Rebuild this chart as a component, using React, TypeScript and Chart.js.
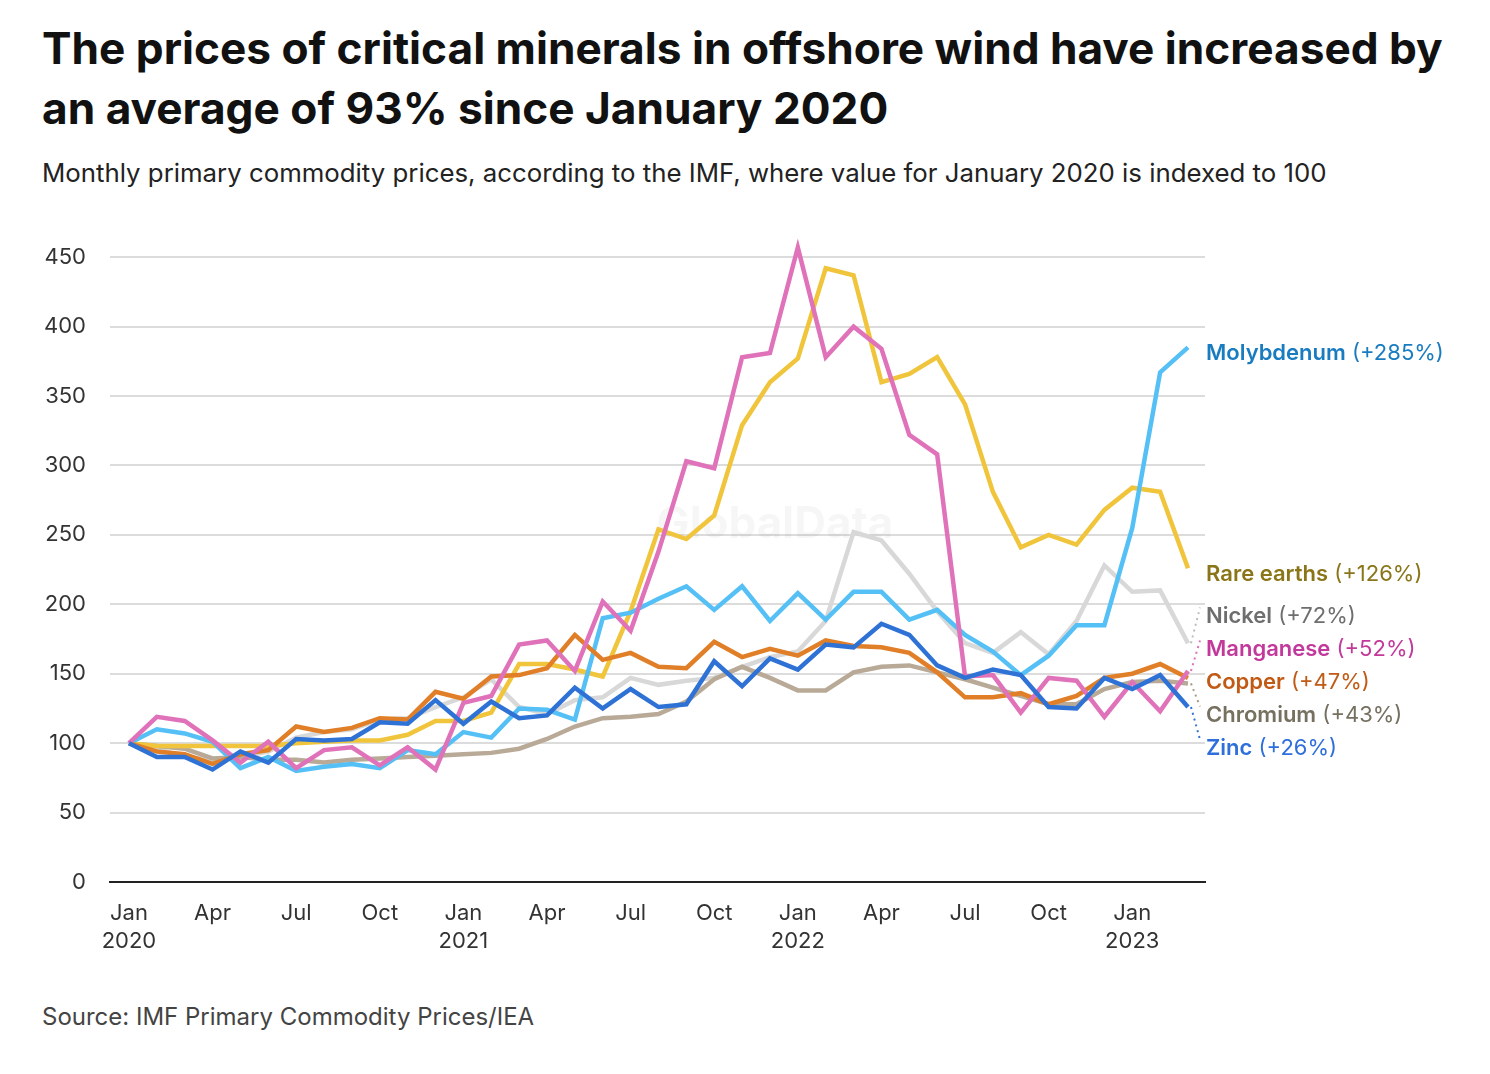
import { useEffect, useRef } from "react";
import { Chart, registerables } from "chart.js";

Chart.register(...registerables);

const FONT = "Inter, 'Noto Sans', 'DejaVu Sans', sans-serif";

// Monthly observations, Jan 2020 .. Mar 2023
const MONTHS = [
  "2020-01", "2020-02", "2020-03", "2020-04", "2020-05", "2020-06", "2020-07", "2020-08", "2020-09", "2020-10", "2020-11", "2020-12",
  "2021-01", "2021-02", "2021-03", "2021-04", "2021-05", "2021-06", "2021-07", "2021-08", "2021-09", "2021-10", "2021-11", "2021-12",
  "2022-01", "2022-02", "2022-03", "2022-04", "2022-05", "2022-06", "2022-07", "2022-08", "2022-09", "2022-10", "2022-11", "2022-12",
  "2023-01", "2023-02", "2023-03",
];

const X_TICK_MONTHS = [
  "2020-01", "2020-04", "2020-07", "2020-10", "2021-01", "2021-04", "2021-07",
  "2021-10", "2022-01", "2022-04", "2022-07", "2022-10", "2023-01",
];
const X_TICK_LABELS = [
  ["Jan", "2020"], ["Apr"], ["Jul"], ["Oct"], ["Jan", "2021"], ["Apr"], ["Jul"],
  ["Oct"], ["Jan", "2022"], ["Apr"], ["Jul"], ["Oct"], ["Jan", "2023"],
];
const Y_TICKS = [0, 50, 100, 150, 200, 250, 300, 350, 400, 450];

const MOLYBDENUM = [
  100, 110, 107, 101, 82, 90, 80, 83, 85, 82, 95, 92,
  108, 104, 125, 124, 117, 190, 194, 204, 213, 196, 213, 188,
  208, 189, 209, 209, 189, 196, 178, 166, 149, 163, 185, 185,
  255, 367, 385,
];
const RARE_EARTHS = [
  100, 98, 98, 98, 98, 98, 100, 101, 102, 102, 106, 116,
  116, 122, 157, 157, 153, 148, 195, 254, 247, 264, 329, 360,
  377, 442, 437, 360, 366, 378, 344, 281, 241, 250, 243, 268,
  284, 281, 226,
];
const NICKEL = [
  100, 96, 90, 88, 90, 94, 104, 108, 110, 117, 118, 126,
  133, 146, 126, 121, 131, 133, 147, 142, 145, 147, 155, 162,
  166, 188, 252, 246, 222, 195, 172, 165, 180, 164, 188, 228,
  209, 210, 172,
];
const MANGANESE = [
  100, 119, 116, 102, 86, 101, 82, 95, 97, 84, 97, 81,
  129, 134, 171, 174, 152, 202, 181, 238, 303, 298, 378, 381,
  457, 378, 400, 384, 322, 308, 148, 149, 122, 147, 145, 119,
  144, 123, 152,
];
const COPPER = [
  100, 94, 92, 85, 92, 95, 112, 108, 111, 118, 117, 137,
  132, 148, 149, 154, 178, 160, 165, 155, 154, 173, 162, 168,
  163, 174, 170, 169, 165, 151, 133, 133, 136, 128, 134, 147,
  150, 157, 147,
];
const CHROMIUM = [
  100, 98, 96, 89, 90, 88, 88, 86, 88, 89, 90, 91,
  92, 93, 96, 103, 112, 118, 119, 121, 130, 146, 155, 147,
  138, 138, 151, 155, 156, 151, 146, 140, 134, 128, 128, 139,
  144, 145, 143,
];
const ZINC = [
  100, 90, 90, 81, 94, 86, 103, 102, 103, 115, 114, 131,
  114, 130, 118, 120, 140, 125, 139, 126, 128, 159, 141, 161,
  153, 171, 169, 186, 178, 156, 147, 153, 149, 126, 125, 147,
  139, 149, 126,
];

const SERIES_NAMES = ["Zinc", "Manganese", "Copper", "Molybdenum", "Rare earths", "Chromium", "Nickel"];
const SERIES_VALUES = [ZINC, MANGANESE, COPPER, MOLYBDENUM, RARE_EARTHS, CHROMIUM, NICKEL];

const STYLE: Record<string, { line: string; label: string; dot: string }> = {
  Zinc: { line: "#2f72d6", label: "#2f6fdc", dot: "#2f72d6" },
  Manganese: { line: "#e072b9", label: "#c2399b", dot: "#e072b9" },
  Copper: { line: "#e07f27", label: "#c15a14", dot: "#e07f27" },
  Molybdenum: { line: "#55c0f5", label: "#1a7cc0", dot: "#55c0f5" },
  "Rare earths": { line: "#f0c53c", label: "#8a7618", dot: "#f0c53c" },
  Chromium: { line: "#b9aa98", label: "#767060", dot: "#a99b88" },
  Nickel: { line: "#d8d8d8", label: "#6e6e6e", dot: "#bdbdbd" },
};

const endLabels = {
  id: "endLabels",
  afterDatasetsDraw(chart: any) {
    const { ctx, scales } = chart;
    const xs = scales.x;
    const ys = scales.y;
    const GAP = 33;
    const OFFSET = 6;
    const items = SERIES_NAMES.map((name, k) => {
      const vals = SERIES_VALUES[k];
      const last = vals[vals.length - 1];
      return {
        name,
        px: xs.getPixelForValue(vals.length - 1),
        py: ys.getPixelForValue(last),
        pct: Math.round(last - 100),
        ly: 0,
      };
    });
    items.sort((a, b) => a.py - b.py);
    let groups: any[] = items.map((it) => ({ items: [it], center: it.py + OFFSET }));
    let changed = true;
    while (changed) {
      changed = false;
      for (let i = 1; i < groups.length; i++) {
        const a = groups[i - 1];
        const b = groups[i];
        const aBottom = a.center + ((a.items.length - 1) * GAP) / 2;
        const bTop = b.center - ((b.items.length - 1) * GAP) / 2;
        if (bTop - aBottom < GAP) {
          const merged = [...a.items, ...b.items];
          const center = merged.reduce((s: number, it: any) => s + it.py + OFFSET, 0) / merged.length;
          groups.splice(i - 1, 2, { items: merged, center });
          changed = true;
          break;
        }
      }
    }
    groups.forEach((g) => {
      const top = g.center - ((g.items.length - 1) * GAP) / 2;
      g.items.forEach((it: any, j: number) => (it.ly = top + j * GAP));
    });

    ctx.save();
    items.forEach((it) => {
      const st = STYLE[it.name];
      const lx = it.px + 18;
      if (Math.abs(it.ly - it.py) > 10) {
        ctx.save();
        ctx.setLineDash([2, 4]);
        ctx.lineWidth = 2;
        ctx.strokeStyle = st.dot;
        ctx.beginPath();
        ctx.moveTo(it.px + 3, it.py);
        ctx.lineTo(lx - 6, it.ly - 9);
        ctx.stroke();
        ctx.restore();
      }
      ctx.textBaseline = "middle";
      ctx.textAlign = "left";
      ctx.fillStyle = st.label;
      ctx.font = `600 22px ${FONT}`;
      ctx.fillText(it.name, lx, it.ly);
      const w = ctx.measureText(it.name).width;
      ctx.font = `400 22px ${FONT}`;
      ctx.fillText(` (+${it.pct}%)`, lx + w, it.ly);
    });
    ctx.restore();
  },
};

const watermark = {
  id: "watermark",
  beforeDatasetsDraw(chart: any) {
    const { ctx } = chart;
    ctx.save();
    ctx.font = `700 44px ${FONT}`;
    ctx.fillStyle = "rgba(0,0,0,0.035)";
    ctx.textAlign = "center";
    ctx.textBaseline = "middle";
    ctx.fillText("GlobalData", 767, 305);
    ctx.restore();
  },
};

export default function App() {
  const ref = useRef<HTMLCanvasElement>(null);

  useEffect(() => {
    const tickIdx = X_TICK_MONTHS.map((m) => MONTHS.indexOf(m));
    const datasets = SERIES_NAMES.map((name, k) => ({
      label: name,
      data: SERIES_VALUES[k].map((v, i) => ({ x: i, y: v })),
      borderColor: STYLE[name].line,
      backgroundColor: STYLE[name].line,
      borderWidth: 4.5,
      pointRadius: 0,
      tension: 0,
      clip: false as any,
    }));
    const chart = new Chart(ref.current!, {
      type: "line",
      data: { datasets },
      options: {
        responsive: false,
        animation: false,
        devicePixelRatio: 1,
        layout: { padding: { top: 34, right: 277, left: 0, bottom: 0 } },
        plugins: { legend: { display: false }, tooltip: { enabled: false } },
        scales: {
          x: {
            type: "linear",
            min: -0.68,
            max: 38.61,
            afterBuildTicks: (s: any) => {
              s.ticks = tickIdx.map((v) => ({ value: v }));
            },
            afterFit: (s: any) => {
              s.height = 98;
            },
            ticks: {
              autoSkip: false,
              maxRotation: 0,
              padding: 17,
              color: "#333",
              font: { family: FONT, size: 22, lineHeight: 1.27 },
              callback: (_v: any, i: number) => X_TICK_LABELS[i],
            },
            grid: { display: false, drawTicks: false },
            border: { display: true, color: "#222", width: 2 },
          },
          y: {
            min: 0,
            max: 450,
            afterBuildTicks: (s: any) => {
              s.ticks = Y_TICKS.map((v) => ({ value: v }));
            },
            afterFit: (s: any) => {
              s.width = 102;
            },
            ticks: {
              padding: 24,
              color: "#333",
              font: { family: FONT, size: 22 },
            },
            grid: { color: "#dcdcdc", lineWidth: 2, drawTicks: false },
            border: { display: false },
          },
        },
      },
      plugins: [watermark, endLabels],
    } as any);
    return () => chart.destroy();
  }, []);

  return (
    <div style={{ position: "relative", width: 1474, height: 1058, fontFamily: FONT, color: "#1a1a1a" }}>
      <div
        style={{
          position: "absolute",
          left: 34,
          top: 10,
          fontSize: 44.2,
          fontWeight: 700,
          lineHeight: "60px",
          color: "#111",
          whiteSpace: "nowrap",
        }}
      >
        The prices of critical minerals in offshore wind have increased by
        <br />
        an average of 93% since January 2020
      </div>
      <div
        style={{
          position: "absolute",
          left: 34,
          top: 149,
          fontSize: 25.8,
          lineHeight: "32px",
          color: "#222",
          whiteSpace: "nowrap",
        }}
      >
        Monthly primary commodity prices, according to the IMF, where value for January 2020 is indexed to 100
      </div>
      <canvas
        ref={ref}
        width={1474}
        height={760}
        style={{ position: "absolute", left: 0, top: 212, width: 1474, height: 760 }}
      />
      <div
        style={{
          position: "absolute",
          left: 34,
          top: 995,
          fontSize: 24,
          lineHeight: "28px",
          color: "#444",
          whiteSpace: "nowrap",
        }}
      >
        Source: IMF Primary Commodity Prices/IEA
      </div>
    </div>
  );
}
